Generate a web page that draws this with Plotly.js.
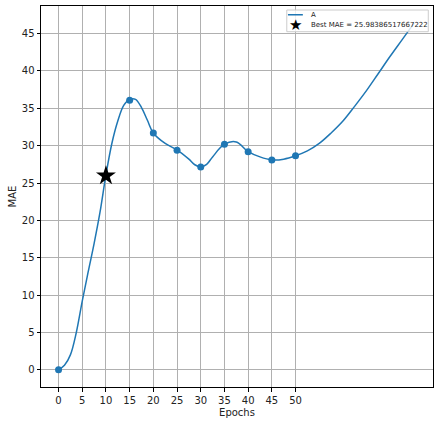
<!DOCTYPE html>
<html>
<head>
<meta charset="utf-8">
<script src="https://cdn.plot.ly/plotly-3.0.1.min.js"></script>
<style>html,body{margin:0;padding:0;background:#fff;}#chart{width:438px;height:425px;}</style>
</head>
<body>
<div id="chart"></div>
<script>
// Measured epochs and MAE values (markers)
const epochs = [0, 15, 20, 25, 30, 35, 40, 45, 50];
const mae = [0, 36.1, 31.7, 29.4, 27.15, 30.2, 29.2, 28.1, 28.65];
// Smooth curve "A"
const curveX = [0, 1.25, 2.5, 3.75, 5, 6.25, 7.5, 8.75, 10, 11.25, 12.5, 13.75, 15, 16.25, 17.5, 18.75, 20, 22.5, 25, 27.5, 28.75, 30, 31.25, 32.5, 35, 37.5, 40, 42.5, 45, 47.5, 50, 52.5, 55, 57.5, 60, 62.5, 65, 67.5, 70, 72.5, 75];
const curveY = [0, 0.6, 2.0, 5.0, 9.2, 13.1, 16.9, 21.1, 26.1, 30.3, 33.3, 35.4, 36.2, 36.2, 35.1, 33.4, 31.7, 30.3, 29.45, 28.2, 27.45, 27.15, 27.5, 28.5, 30.2, 30.5, 29.2, 28.5, 28.1, 28.2, 28.65, 29.3, 30.3, 31.7, 33.3, 35.3, 37.4, 39.7, 42.0, 44.2, 46.4];
// Best point
const bestX = [10];
const bestY = [25.98386517667222];
const seriesName = 'A';
const bestLabel = 'Best MAE = ' + bestY[0];
const xTicks = [0, 5, 10, 15, 20, 25, 30, 35, 40, 45, 50];
const yTicks = [0, 5, 10, 15, 20, 25, 30, 35, 40, 45];

const blue = '#1f77b4';
const traces = [
  {x: curveX, y: curveY, mode: 'lines', name: seriesName, showlegend: false, line: {color: blue, width: 1.5, shape: 'spline', smoothing: 1}},
  {x: epochs, y: mae, mode: 'markers', showlegend: false, marker: {color: blue, size: 7}},
  {x: bestX, y: bestY, mode: 'markers', name: bestLabel, showlegend: false, marker: {color: 'black', symbol: 'star', size: 15}}
];
const axisCommon = {
  showline: true, linecolor: 'black', linewidth: 1, mirror: true,
  ticks: 'outside', ticklen: 3.5, tickcolor: 'black', tickwidth: 1,
  showgrid: true, gridcolor: '#b0b0b0', gridwidth: 1, zeroline: false,
  tickfont: {family: 'DejaVu Sans', size: 10, color: '#222'}
};
const legFont = {family: 'DejaVu Sans', size: 7, color: '#222'};
const layout = {
  width: 438, height: 425,
  margin: {l: 41, r: 5, t: 6, b: 38},
  paper_bgcolor: 'white', plot_bgcolor: 'white',
  font: {family: 'DejaVu Sans', color: '#222'},
  showlegend: false,
  xaxis: Object.assign({}, axisCommon, {range: [-3.7, 79], tickvals: xTicks, ticktext: xTicks.map(String),
    title: {text: 'Epochs', font: {size: 10, family: 'DejaVu Sans'}, standoff: 4}}),
  yaxis: Object.assign({}, axisCommon, {range: [-2.3, 48.7], tickvals: yTicks, ticktext: yTicks.map(String),
    title: {text: 'MAE', font: {size: 10, family: 'DejaVu Sans'}, standoff: 3}}),
  shapes: [
    {type: 'rect', xref: 'paper', yref: 'paper', x0: 0.627, x1: 0.988, y0: 0.9325, y1: 0.9895,
     fillcolor: 'rgba(255,255,255,0.8)', line: {color: '#cccccc', width: 1}, layer: 'above'},
    {type: 'line', xref: 'paper', yref: 'paper', x0: 0.630, x1: 0.668, y0: 0.977, y1: 0.977,
     line: {color: blue, width: 1.5}, layer: 'above'}
  ],
  annotations: [
    {xref: 'paper', yref: 'paper', x: 0.684, y: 0.977, xanchor: 'left', yanchor: 'middle', showarrow: false,
     text: seriesName, font: legFont},
    {xref: 'paper', yref: 'paper', x: 0.6505, y: 0.950, xanchor: 'center', yanchor: 'middle', showarrow: false,
     text: '★', font: {family: 'DejaVu Sans', size: 15, color: 'black'}},
    {xref: 'paper', yref: 'paper', x: 0.684, y: 0.950, xanchor: 'left', yanchor: 'middle', showarrow: false,
     text: bestLabel, font: legFont}
  ]
};
Plotly.newPlot('chart', traces, layout, {displayModeBar: false, staticPlot: true});
</script>
</body>
</html>
